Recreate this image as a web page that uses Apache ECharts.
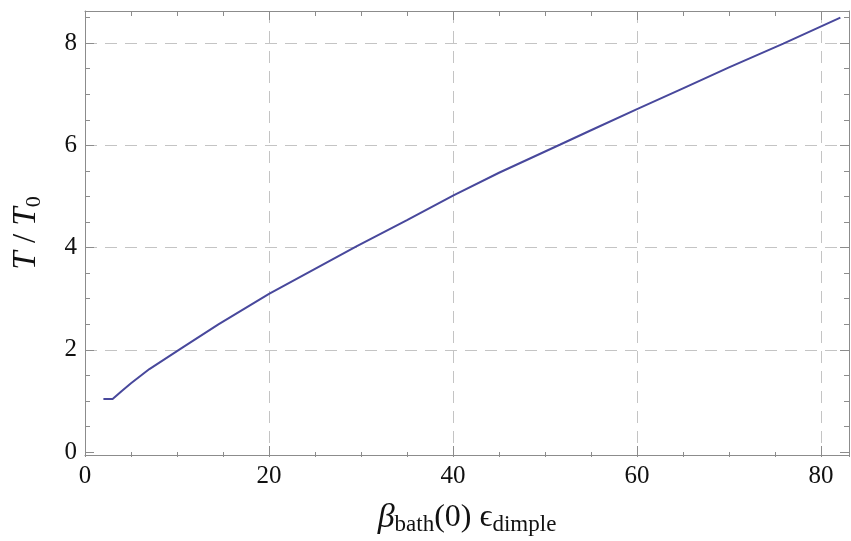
<!DOCTYPE html>
<html><head><meta charset="utf-8">
<script src="https://cdn.jsdelivr.net/npm/echarts@6/dist/echarts.min.js"></script>
<style>html,body{margin:0;padding:0;background:#fff}#c{width:851px;height:541px}</style>
</head><body><div id="c"></div>
<script>
// data
const xValues = [2, 3, 4, 5, 7, 10.5, 14.5, 20, 25, 29.5, 35, 40, 45, 51.6, 55, 60, 65, 70, 75.9, 82.1];
const yValues = [1, 1, 1.16, 1.31, 1.59, 2.0, 2.47, 3.07, 3.56, 4.0, 4.52, 5.0, 5.45, 6.0, 6.285, 6.7, 7.11, 7.52, 7.99, 8.5];
const xRange = [0, 83.04];
const yRange = [-0.1, 8.63];
const xMajor = 20, xMinor = 5;
const yMajor = 2, yMinor = 0.5;

const FONT = 'Liberation Serif';
const AX = '#8c8c8c';
const GRIDC = '#c4c4c4';
const lineData = xValues.map((x, i) => [x, yValues[i]]);

const frameGrid = {left: 85, right: 2, top: 11, bottom: 84};
const tickGrid = {left: 85, right: 2, top: 11, bottom: 89};

function hidden(extra) {
  return Object.assign({axisLine: {show: false, onZero: false}, axisTick: {show: false}, axisLabel: {show: false}, splitLine: {show: false}}, extra);
}

const labelStyle = {fontFamily: FONT, fontSize: 25, color: '#111'};

const option = {
  animation: false,
  backgroundColor: '#fff',
  grid: [frameGrid, tickGrid, tickGrid],
  xAxis: [
    { // 0 frame bottom with major ticks, labels, grid lines
      gridIndex: 0, type: 'value', position: 'bottom', min: xRange[0], max: xRange[1], interval: xMajor,
      axisLine: {show: true, onZero: false, lineStyle: {color: AX, width: 1}},
      axisTick: {show: true, inside: true, length: 9, lineStyle: {color: AX}},
      axisLabel: Object.assign({show: true, margin: 9, showMaxLabel: false}, labelStyle),
      splitLine: {show: true, showMinLine: false, showMaxLine: false, lineStyle: {color: GRIDC, type: [12, 8], width: 1}},
      name: '{b|β}{sb|bath}{r|(0) }{e|ϵ}{sb|dimple}',
      nameLocation: 'middle', nameGap: 45,
      nameTextStyle: {
        rich: {
          b: {fontFamily: FONT, fontSize: 34, fontStyle: 'italic', color: '#111', lineHeight: 36},
          r: {fontFamily: FONT, fontSize: 32, color: '#111', lineHeight: 36},
          e: {fontFamily: FONT, fontSize: 32, color: '#111', lineHeight: 36},
          sb: {fontFamily: FONT, fontSize: 23, color: '#111', lineHeight: 29, verticalAlign: 'bottom'}
        }
      }
    },
    { // 1 frame top
      gridIndex: 0, type: 'value', position: 'top', min: xRange[0], max: xRange[1], interval: xMajor,
      axisLine: {show: true, onZero: false, lineStyle: {color: AX, width: 1}},
      axisTick: {show: true, inside: true, length: 9, lineStyle: {color: AX}},
      axisLabel: {show: false}, splitLine: {show: false}
    },
    hidden({ // 2 minor ticks bottom
      gridIndex: 1, type: 'value', position: 'bottom', offset: 5, min: xRange[0], max: xRange[1], interval: xMinor,
      axisTick: {show: true, inside: true, length: 5, lineStyle: {color: AX}}
    }),
    hidden({ // 3 minor ticks top
      gridIndex: 1, type: 'value', position: 'top', min: xRange[0], max: xRange[1], interval: xMinor,
      axisTick: {show: true, inside: true, length: 5, lineStyle: {color: AX}}
    }),
    hidden({gridIndex: 2, type: 'value', position: 'bottom', min: xRange[0], max: xRange[1]})
  ],
  yAxis: [
    { // 0 frame left
      gridIndex: 0, type: 'value', position: 'left', min: yRange[0], max: yRange[1],
      axisLine: {show: true, onZero: false, lineStyle: {color: AX, width: 1}},
      axisTick: {show: false}, axisLabel: {show: false}, splitLine: {show: false},
      name: '{i|T}{r| / }{i|T}{s|0}',
      nameLocation: 'middle', nameRotate: 90, nameGap: 40,
      nameTextStyle: {
        rich: {
          i: {fontFamily: FONT, fontSize: 33, fontStyle: 'italic', color: '#111', lineHeight: 38},
          r: {fontFamily: FONT, fontSize: 33, color: '#111', lineHeight: 38},
          s: {fontFamily: FONT, fontSize: 22, color: '#111', lineHeight: 28, verticalAlign: 'bottom'}
        }
      }
    },
    { // 1 frame right
      gridIndex: 0, type: 'value', position: 'right', min: yRange[0], max: yRange[1],
      axisLine: {show: true, onZero: false, lineStyle: {color: AX, width: 1}},
      axisTick: {show: false}, axisLabel: {show: false}, splitLine: {show: false}
    },
    hidden({ // 2 major left: labels, ticks, grid lines
      gridIndex: 1, type: 'value', position: 'left', min: 0, max: yRange[1], interval: yMajor,
      axisTick: {show: true, inside: true, length: 9, lineStyle: {color: AX}},
      axisLabel: Object.assign({show: true, margin: 8, showMaxLabel: false}, labelStyle),
      splitLine: {show: true, showMinLine: false, showMaxLine: false, lineStyle: {color: GRIDC, type: [12, 8], width: 1}}
    }),
    hidden({ // 3 major right
      gridIndex: 1, type: 'value', position: 'right', min: 0, max: yRange[1], interval: yMajor,
      axisTick: {show: true, inside: true, length: 9, lineStyle: {color: AX}}
    }),
    hidden({ // 4 minor left
      gridIndex: 2, type: 'value', position: 'left', min: 0, max: yRange[1], interval: yMinor,
      axisTick: {show: true, inside: true, length: 5, lineStyle: {color: AX}}
    }),
    hidden({ // 5 minor right
      gridIndex: 2, type: 'value', position: 'right', min: 0, max: yRange[1], interval: yMinor,
      axisTick: {show: true, inside: true, length: 5, lineStyle: {color: AX}}
    })
  ],
  series: [{
    type: 'line', xAxisIndex: 0, yAxisIndex: 0, data: lineData,
    showSymbol: false, smooth: false,
    lineStyle: {color: '#48489c', width: 2}
  }]
};
echarts.init(document.getElementById('c'), null, {renderer: 'canvas'}).setOption(option);
</script>
</body></html>
